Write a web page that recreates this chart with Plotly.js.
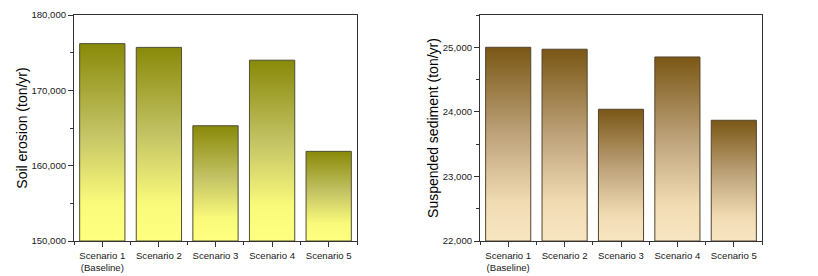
<!DOCTYPE html>
<html>
<head>
<meta charset="utf-8">
<script src="https://cdn.plot.ly/plotly-3.0.1.min.js"></script>
<style>
  html, body { margin: 0; padding: 0; background: #ffffff; }
  #chart { width: 818px; height: 276px; }
</style>
</head>
<body>
<div id="chart"></div>
<script>
// Scenario labels shared by both panels
const scenarios = ['Scenario 1<br>(Baseline)', 'Scenario 2', 'Scenario 3', 'Scenario 4', 'Scenario 5'];
// Annual soil erosion per scenario (ton/yr)
const soilErosion = [176200, 175700, 165300, 174000, 161900];
// Annual suspended sediment per scenario (ton/yr)
const suspendedSediment = [25000, 24970, 24040, 24850, 23870];
// Value axis ranges
const soilRange = [150000, 180000];
const sedimentRange = [22000, 25500];

const positions = scenarios.map((_, i) => i);
const FONT = 'Liberation Sans, Arial, sans-serif';

// Vertical fills applied to each bar (dark at the top, pale at the base)
const gradients = {
  soilFill: [['0%', '#898909'], ['45%', '#c3c365'], ['80%', '#f9f97a'], ['100%', '#ffff80']],
  sedFill:  [['0%', '#7a5715'], ['45%', '#bea37b'], ['80%', '#f1dbb3'], ['100%', '#f8e6c2']]
};

// Bars rise from the bottom of each value axis, so each bar's top sits at its value
function barTrace(values, floor, xa, ya, color, lineColor) {
  return {
    type: 'bar', x: positions, base: floor, y: values.map(v => v - floor),
    xaxis: xa, yaxis: ya, width: 0.8,
    marker: { color: color, line: { color: lineColor, width: 1 } },
    hoverinfo: 'none'
  };
}

const traces = [
  barTrace(soilErosion, soilRange[0], 'x', 'y', '#c3c365', '#4f4f34'),
  barTrace(suspendedSediment, sedimentRange[0], 'x2', 'y2', '#bea37b', '#54442c')
];

function xAxis(domain, anchor) {
  return {
    domain: domain, anchor: anchor, range: [-0.5, 4.5],
    tickmode: 'array', tickvals: positions, ticktext: scenarios,
    ticks: 'outside', ticklen: 5, tickwidth: 1, tickcolor: '#333',
    minor: { tickmode: 'linear', tick0: 0.5, dtick: 1, ticks: 'outside', ticklen: 3, tickwidth: 1, tickcolor: '#333', showgrid: false },
    showline: true, linecolor: '#333', linewidth: 1, mirror: true,
    showgrid: false, zeroline: false, fixedrange: true,
    tickfont: { family: FONT, size: 9.6, color: '#1a1a1a' }
  };
}

function yAxis(anchor, range, dtick, minorDtick, title) {
  return {
    anchor: anchor, domain: [0, 1], range: range, dtick: dtick, tick0: range[0],
    tickformat: ',d',
    ticks: 'outside', ticklen: 5, tickwidth: 1, tickcolor: '#333',
    minor: { dtick: minorDtick, ticks: 'outside', ticklen: 3, tickwidth: 1, tickcolor: '#333', showgrid: false },
    showline: true, linecolor: '#333', linewidth: 1, mirror: true,
    showgrid: false, zeroline: false, fixedrange: true,
    tickfont: { family: FONT, size: 9.6, color: '#1a1a1a' },
    title: { text: title, font: { family: FONT, size: 14, color: '#000' }, standoff: 0 }
  };
}

const layout = {
  width: 818, height: 276,
  margin: { l: 0, r: 0, t: 15, b: 35 },
  paper_bgcolor: '#ffffff', plot_bgcolor: '#ffffff',
  showlegend: false,
  xaxis: xAxis([74 / 818, 357 / 818], 'y'),
  yaxis: yAxis('x', soilRange, 10000, 5000, 'Soil erosion (ton/yr)'),
  xaxis2: xAxis([480 / 818, 762 / 818], 'y2'),
  yaxis2: yAxis('x2', sedimentRange, 1000, 500, 'Suspended sediment (ton/yr)')
};

Plotly.newPlot('chart', traces, layout, { displayModeBar: false, staticPlot: true }).then(gd => {
  const svgNS = 'http://www.w3.org/2000/svg';
  const svg = gd.querySelector('svg.main-svg');
  let defs = svg.querySelector('defs');
  if (!defs) { defs = document.createElementNS(svgNS, 'defs'); svg.insertBefore(defs, svg.firstChild); }
  Object.keys(gradients).forEach(id => {
    const lg = document.createElementNS(svgNS, 'linearGradient');
    lg.setAttribute('id', id);
    lg.setAttribute('x1', '0'); lg.setAttribute('y1', '0');
    lg.setAttribute('x2', '0'); lg.setAttribute('y2', '1');
    gradients[id].forEach(([off, col]) => {
      const s = document.createElementNS(svgNS, 'stop');
      s.setAttribute('offset', off);
      s.setAttribute('stop-color', col);
      lg.appendChild(s);
    });
    defs.appendChild(lg);
  });
  const ids = ['soilFill', 'sedFill'];
  gd.querySelectorAll('.barlayer .trace').forEach((layer, i) => {
    layer.querySelectorAll('path').forEach(p => { p.style.fill = 'url(#' + ids[i] + ')'; });
  });
});
</script>
</body>
</html>
